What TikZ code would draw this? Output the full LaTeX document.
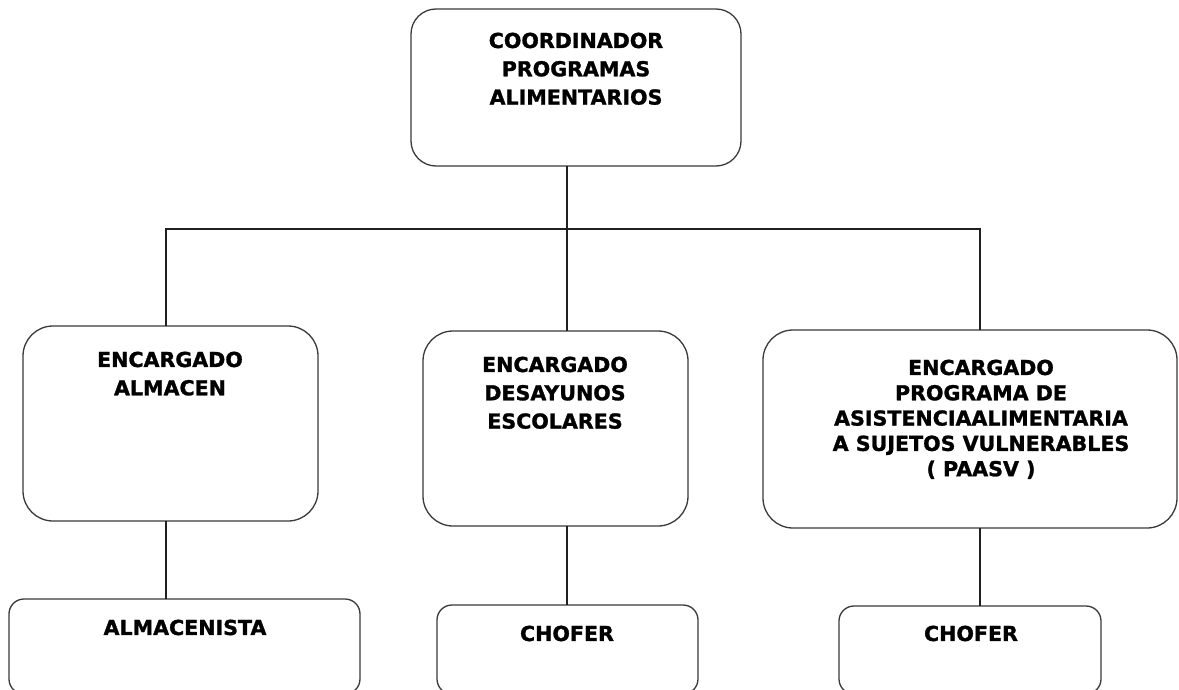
\documentclass[tikz,border=0pt]{standalone}
\usepackage{fontspec}
\setmainfont{DejaVu Sans}[BoldFeatures={FakeBold=1.3}]
\definecolor{boxgray}{HTML}{3A3A3A}
\definecolor{linegray}{HTML}{202020}
\begin{document}
\begin{tikzpicture}[x=1pt,y=-1pt,
  orgbox/.style={draw=boxgray, line width=1.3pt, rounded corners=#1, inner sep=0pt, outer sep=0pt},
  orgbox/.default=28pt,
  lbl/.style={font=\bfseries\fontsize{20.6}{28.3}\selectfont, align=center, inner sep=0pt, anchor=north},
  lblsmall/.style={font=\bfseries\fontsize{20.6}{25.3}\selectfont, align=center, inner sep=0pt, anchor=north},
  conn/.style={draw=linegray, line width=1.2pt}]
\useasboundingbox (0,0) rectangle (1179,690);
\clip (0,0) rectangle (1179,690);
\fill[white] (0,0) rectangle (1179,690);

% boxes
\node[orgbox=25pt, minimum width=330pt, minimum height=157pt] (top) at (576,87.5) {};
\node[orgbox=30pt, minimum width=295pt, minimum height=195pt] (lft) at (170.5,423.5) {};
\node[orgbox=30pt, minimum width=265pt, minimum height=195pt] (mid) at (555.5,428.5) {};
\node[orgbox=30pt, minimum width=414pt, minimum height=198pt] (rgt) at (970,429) {};
\node[orgbox=15pt, minimum width=351pt, minimum height=95pt] (alm) at (184.5,646.5) {};
\node[orgbox=15pt, minimum width=261pt, minimum height=89pt] (ch1) at (567.5,649.5) {};
\node[orgbox=15pt, minimum width=262pt, minimum height=88pt] (ch2) at (970,650) {};

% texts
\node[lbl] (ttop) at (576,32.5) {COORDINADOR\\PROGRAMAS\\ALIMENTARIOS};
\node[lbl] (tlft) at (170,351.5) {ENCARGADO\\ALMACEN};
\node[lbl] (tmid) at (555,356.5) {ENCARGADO\\DESAYUNOS\\ESCOLARES};
\node[lblsmall] (trgt) at (981,359.5) {ENCARGADO\\PROGRAMA DE\\ASISTENCIAALIMENTARIA\\A SUJETOS VULNERABLES\\( PAASV )};
\node[lbl] (talm) at (185,619.5) {ALMACENISTA};
\node[lbl] (tch1) at (567,625.5) {CHOFER};
\node[lbl] (tch2) at (971,625.5) {CHOFER};

% connectors
\coordinate (bus) at (567,229);
\coordinate (busL) at (166,229);
\coordinate (busR) at (980,229);
\draw[conn] (top.south -| bus) -- (mid.north -| bus);
\draw[conn] (lft.north -| busL) -- (busL) -- (busR) -- (rgt.north -| busR);
\draw[conn] (lft.south -| busL) -- (alm.north -| busL);
\draw[conn] (mid.south -| bus) -- (ch1.north -| bus);
\draw[conn] (rgt.south -| busR) -- (ch2.north -| busR);
\end{tikzpicture}
\end{document}
